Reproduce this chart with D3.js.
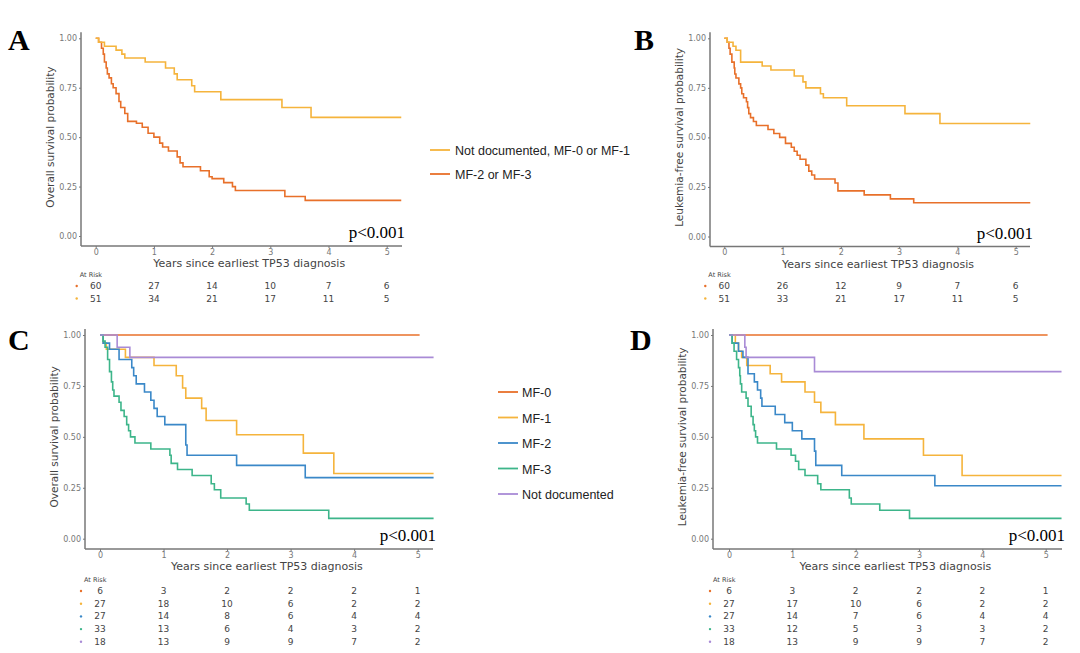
<!DOCTYPE html>
<html><head><meta charset="utf-8">
<script src="https://cdn.jsdelivr.net/npm/d3@7"></script>
<style>body{margin:0;background:#fff}</style></head>
<body><svg id="c" width="1080" height="653"></svg>
<script>
const xTicks=[0,1,2,3,4,5];
const yTicks=[0,0.25,0.5,0.75,1];
// [time, survival] step points
const A_mf23=[[0,1],[0.05,0.98],[0.1,0.95],[0.13,0.92],[0.15,0.88],[0.18,0.85],[0.2,0.82],[0.23,0.80],[0.27,0.77],[0.3,0.75],[0.35,0.72],[0.4,0.68],[0.43,0.65],[0.5,0.62],[0.55,0.58],[0.7,0.57],[0.8,0.55],[0.9,0.52],[1.0,0.50],[1.1,0.47],[1.15,0.45],[1.25,0.43],[1.4,0.40],[1.45,0.37],[1.5,0.35],[1.8,0.33],[1.95,0.30],[2.0,0.29],[2.2,0.27],[2.35,0.25],[2.4,0.23],[3.25,0.20],[3.6,0.18],[5.25,0.18]];
const A_nd01=[[0,1],[0.05,0.98],[0.15,0.96],[0.35,0.94],[0.45,0.92],[0.5,0.90],[0.85,0.88],[1.2,0.85],[1.35,0.82],[1.4,0.79],[1.65,0.76],[1.7,0.73],[2.15,0.69],[3.2,0.65],[3.7,0.60],[5.25,0.60]];
const B_mf23=[[0,1],[0.05,0.98],[0.08,0.95],[0.1,0.92],[0.13,0.88],[0.17,0.85],[0.18,0.82],[0.2,0.80],[0.25,0.77],[0.28,0.75],[0.3,0.72],[0.33,0.70],[0.38,0.68],[0.4,0.65],[0.42,0.62],[0.45,0.60],[0.5,0.58],[0.55,0.56],[0.75,0.54],[0.85,0.52],[0.95,0.50],[1.05,0.47],[1.15,0.45],[1.2,0.43],[1.25,0.41],[1.3,0.39],[1.4,0.36],[1.45,0.33],[1.5,0.31],[1.55,0.29],[1.9,0.27],[1.95,0.23],[2.4,0.21],[2.85,0.19],[3.25,0.17],[5.25,0.17]];
const B_nd01=[[0,1],[0.05,0.98],[0.15,0.96],[0.2,0.94],[0.28,0.88],[0.65,0.86],[0.8,0.84],[1.2,0.81],[1.35,0.78],[1.4,0.75],[1.65,0.72],[1.7,0.70],[2.1,0.66],[3.1,0.62],[3.7,0.57],[5.25,0.57]];
const C_mf0=[[0,1],[5.03,1]];
const C_mf1=[[0,1],[0.05,0.96],[0.1,0.93],[0.4,0.89],[0.85,0.85],[1.2,0.80],[1.3,0.74],[1.35,0.69],[1.6,0.64],[1.67,0.58],[2.15,0.51],[3.2,0.42],[3.68,0.32],[5.25,0.32]];
const C_mf2=[[0,1],[0.05,0.96],[0.15,0.93],[0.3,0.88],[0.5,0.84],[0.53,0.80],[0.57,0.76],[0.7,0.72],[0.8,0.68],[0.85,0.64],[0.9,0.60],[1.02,0.56],[1.35,0.46],[1.37,0.41],[2.15,0.36],[3.23,0.30],[5.25,0.30]];
const C_mf3=[[0,1],[0.05,0.97],[0.08,0.94],[0.12,0.88],[0.15,0.82],[0.18,0.77],[0.2,0.73],[0.22,0.70],[0.3,0.67],[0.33,0.63],[0.38,0.60],[0.42,0.56],[0.45,0.53],[0.48,0.50],[0.55,0.47],[0.8,0.44],[1.1,0.41],[1.12,0.37],[1.22,0.34],[1.45,0.31],[1.75,0.27],[1.8,0.24],[1.9,0.20],[2.3,0.17],[2.35,0.14],[3.6,0.10],[5.25,0.10]];
const C_nd=[[0,1],[0.27,0.94],[0.47,0.89],[5.25,0.89]];
const D_mf0=[[0,1],[5.03,1]];
const D_mf1=[[0,1],[0.1,0.96],[0.15,0.92],[0.2,0.89],[0.28,0.85],[0.65,0.81],[0.83,0.77],[1.2,0.72],[1.35,0.67],[1.45,0.62],[1.68,0.56],[2.13,0.49],[3.07,0.41],[3.68,0.31],[5.25,0.31]];
const D_mf2=[[0,1],[0.05,0.96],[0.15,0.92],[0.22,0.89],[0.3,0.81],[0.4,0.77],[0.45,0.73],[0.5,0.69],[0.52,0.65],[0.73,0.61],[0.88,0.57],[1.0,0.53],[1.15,0.49],[1.35,0.43],[1.37,0.36],[1.78,0.31],[3.25,0.26],[5.25,0.26]];
const D_mf3=[[0,1],[0.05,0.96],[0.08,0.92],[0.12,0.88],[0.15,0.84],[0.17,0.80],[0.18,0.76],[0.2,0.72],[0.27,0.69],[0.3,0.65],[0.35,0.60],[0.38,0.56],[0.4,0.53],[0.42,0.50],[0.45,0.47],[0.75,0.44],[0.98,0.41],[1.05,0.38],[1.1,0.34],[1.2,0.31],[1.4,0.27],[1.45,0.24],[1.9,0.20],[1.93,0.17],[2.38,0.14],[2.85,0.10],[5.25,0.10]];
const D_nd=[[0,1],[0.25,0.94],[0.27,0.89],[1.35,0.82],[5.25,0.82]];
const risk_A=[[60,27,14,10,7,6],[51,34,21,17,11,5]];
const risk_B=[[60,26,12,9,7,6],[51,33,21,17,11,5]];
const risk_C=[[6,3,2,2,2,1],[27,18,10,6,2,2],[27,14,8,6,4,4],[33,13,6,4,3,2],[18,13,9,9,7,2]];
const risk_D=[[6,3,2,2,2,1],[27,17,10,6,2,2],[27,14,7,6,4,4],[33,12,5,3,3,2],[18,13,9,9,7,2]];
const legend2=["Not documented, MF-0 or MF-1","MF-2 or MF-3"];
const legend5=["MF-0","MF-1","MF-2","MF-3","Not documented"];
const RED="#E8702A",YEL="#F5B43C",BLU="#3A88C8",GRN="#3DB58A",PUR="#A98BD6";

const svg=d3.select("#c");
function panel(o){
  const g=svg.append("g");
  const x=d3.scaleLinear().domain([0,5]).range([o.x0,o.x5]);
  const y=d3.scaleLinear().domain([0,1]).range([o.y0,o.y1]);
  const ax=g.append("g").attr("transform",`translate(0,${o.axY})`).call(d3.axisBottom(x).tickValues(xTicks).tickFormat(d3.format("d")).tickSize(2).tickPadding(1).tickSizeOuter(0));
  ax.select(".domain").attr("d",`M${o.axX},0H${o.right}`);
  const ay=g.append("g").attr("transform",`translate(${o.axX},0)`).call(d3.axisLeft(y).tickValues(yTicks).tickFormat(d3.format(".2f")).tickSize(2).tickPadding(2).tickSizeOuter(0));
  ay.select(".domain").attr("d",`M0,${o.y1-6}V${o.axY}`);
  [ax,ay].forEach(a=>{a.selectAll(".domain").attr("stroke","#777").attr("stroke-width",1.5);a.selectAll(".tick line").attr("stroke","#777");a.selectAll("text").attr("fill","#777").attr("font-family","DejaVu Sans").attr("font-size",8);});
  const line=d3.line().x(d=>x(d[0])).y(d=>y(d[1])).curve(d3.curveStepAfter);
  o.series.forEach((s,i)=>g.append("path").datum(s).attr("d",line).attr("fill","none").attr("stroke",o.colors[i]).attr("stroke-width",1.6));
  g.append("text").attr("x",(o.x0+o.x5)/2+8).attr("y",o.axY+21).attr("text-anchor","middle").attr("font-family","DejaVu Sans").attr("font-size",11).attr("fill","#444").text("Years since earliest TP53 diagnosis");
  g.append("text").attr("transform",`translate(${o.axX-27},${(o.y0+o.y1)/2}) rotate(-90)`).attr("text-anchor","middle").attr("font-family","DejaVu Sans").attr("font-size",10.5).attr("fill","#444").text(o.ytitle);
  g.append("text").attr("x",o.right+3).attr("y",o.y0+2).attr("text-anchor","end").attr("font-family","Liberation Serif").attr("font-size",17).attr("fill","#000").text("p<0.001");
  g.append("text").attr("x",o.x0-16).attr("y",o.riskY-12).attr("font-family","DejaVu Sans").attr("font-size",6.5).attr("fill","#444").text("At Risk");
  o.risk.forEach((row,i)=>{
    const ry=o.riskY+i*o.riskDy;
    g.append("circle").attr("cx",o.x0-19).attr("cy",ry-3).attr("r",1.2).attr("fill",o.colors[i]);
    row.forEach((v,j)=>g.append("text").attr("x",x(xTicks[j])).attr("y",ry).attr("text-anchor","middle").attr("font-family","DejaVu Sans").attr("font-size",9).attr("fill","#444").text(v));
  });
  svg.append("text").attr("x",o.lx).attr("y",o.ly).attr("font-family","Liberation Serif").attr("font-weight","bold").attr("font-size",30).text(o.letter);
}
panel({letter:"A",lx:8,ly:50,x0:95.7,x5:386.7,y0:236,y1:38.3,axX:81,axY:246,right:402,riskY:289,riskDy:12.5,ytitle:"Overall survival probability",series:[A_mf23,A_nd01],colors:[RED,YEL],risk:risk_A});
panel({letter:"B",lx:634,ly:50,x0:724.3,x5:1015.7,y0:236.5,y1:38.3,axX:710,axY:246.5,right:1030,riskY:289,riskDy:12.5,ytitle:"Leukemia-free survival probability",series:[B_mf23,B_nd01],colors:[RED,YEL],risk:risk_B});
panel({letter:"C",lx:8,ly:350,x0:100,x5:417.7,y0:538.7,y1:335,axX:85,axY:549,right:433,riskY:594,riskDy:12.7,ytitle:"Overall survival probability",series:[C_mf0,C_mf1,C_mf2,C_mf3,C_nd],colors:[RED,YEL,BLU,GRN,PUR],risk:risk_C});
panel({letter:"D",lx:630,ly:350,x0:729,x5:1045.7,y0:538.7,y1:335,axX:713,axY:549,right:1062,riskY:594,riskDy:12.7,ytitle:"Leukemia-free survival probability",series:[D_mf0,D_mf1,D_mf2,D_mf3,D_nd],colors:[RED,YEL,BLU,GRN,PUR],risk:risk_D});
// legends
legend2.forEach((t,i)=>{const yy=150+i*24;
  svg.append("line").attr("x1",430).attr("x2",450).attr("y1",yy).attr("y2",yy).attr("stroke",[YEL,RED][i]).attr("stroke-width",1.8);
  svg.append("text").attr("x",455).attr("y",yy+5).attr("font-family","Liberation Sans").attr("font-size",12.5).attr("fill","#222").text(t);});
legend5.forEach((t,i)=>{const yy=392+i*25.5;
  svg.append("line").attr("x1",498).attr("x2",518).attr("y1",yy).attr("y2",yy).attr("stroke",[RED,YEL,BLU,GRN,PUR][i]).attr("stroke-width",1.8);
  svg.append("text").attr("x",522).attr("y",yy+5).attr("font-family","Liberation Sans").attr("font-size",12.5).attr("fill","#222").text(t);});
</script></body></html>
